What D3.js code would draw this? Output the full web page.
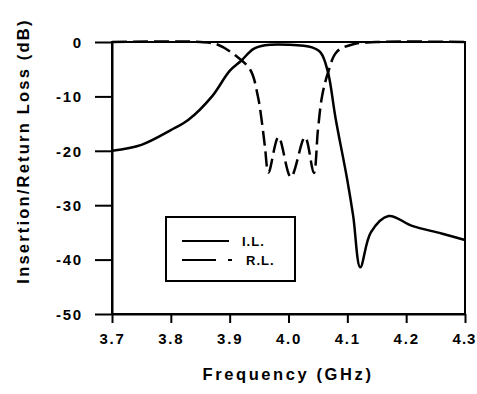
<!DOCTYPE html>
<html><head><meta charset="utf-8">
<script src="https://cdn.jsdelivr.net/npm/d3@7"></script>
<style>
body{margin:0;background:#fff;}
text{font-family:"Liberation Sans",Arial,sans-serif;font-weight:bold;fill:#000;}
</style></head>
<body><svg id="c" width="477" height="394"></svg>
<script>
const xTicks = [3.7, 3.8, 3.9, 4.0, 4.1, 4.2, 4.3];
const yTicks = [0, -10, -20, -30, -40, -50];
const ilFreq = [3.70, 3.75, 3.80, 3.83, 3.87, 3.90, 3.92, 3.94, 3.96, 4.00, 4.04, 4.055, 4.067, 4.08, 4.10, 4.11, 4.122, 4.14, 4.17, 4.21, 4.26, 4.30];
const ilVals = [-20, -18.9, -16.2, -14.3, -10, -5.3, -3.4, -1.3, -0.6, -0.5, -1.0, -2.0, -5.5, -14, -25.4, -32, -41.4, -35, -32, -33.8, -35.2, -36.4];
const rlFreq = [3.70, 3.85, 3.88, 3.91, 3.935, 3.948, 3.955, 3.96, 3.966, 3.983, 4.004, 4.028, 4.043, 4.05, 4.057, 4.067, 4.082, 4.11, 4.15, 4.30];
const rlVals = [0, 0, -0.5, -2.5, -5.1, -10, -14.9, -19.3, -24, -17.5, -24.8, -17.5, -24.1, -16.2, -10, -5.7, -1.8, -0.4, 0, 0];
const legendLabels = ["I.L.", "R.L."];

const svg = d3.select("#c");
const L = 112, R = 465, T = 42, B = 314;
const x = d3.scaleLinear().domain([3.7, 4.3]).range([L, R]);
const y = d3.scaleLinear().domain([-50, 0]).range([B, T]);

// frame
svg.append("rect").attr("x", L).attr("y", T).attr("width", R - L).attr("height", B - T)
  .attr("fill", "none").attr("stroke", "#000").attr("stroke-width", 2);

const xa = svg.append("g").attr("transform", `translate(0,${B})`)
  .call(d3.axisBottom(x).tickValues(xTicks).tickFormat(d3.format(".1f")).tickSize(9).tickSizeOuter(0));
const ya = svg.append("g").attr("transform", `translate(${L},0)`)
  .call(d3.axisLeft(y).tickValues(yTicks).tickFormat(d => d).tickSize(17).tickSizeOuter(0));
[xa, ya].forEach(a => {
  a.select(".domain").attr("stroke", "#000").attr("stroke-width", 2);
  a.selectAll(".tick line").attr("stroke", "#000").attr("stroke-width", 2);
  a.selectAll(".tick text").attr("font-size", 15).attr("letter-spacing", 1.8).style("font-family", "Liberation Sans, Arial, sans-serif").style("font-weight", "bold");
});
xa.selectAll(".tick text").attr("dy", "1.2em");
xa.selectAll(".tick text").filter(d => d === 4.3).attr("letter-spacing", 1).attr("dx", -1);
ya.selectAll(".tick text").attr("dx", -9).attr("dy", "0.35em");

const line = (fr, vs) => d3.line().x((d, i) => x(fr[i])).y((d, i) => y(vs[i])).curve(d3.curveCatmullRom.alpha(0.5))(vs);

svg.append("path").attr("d", line(ilFreq, ilVals)).attr("fill", "none").attr("stroke", "#000").attr("stroke-width", 2.5);
svg.append("path").attr("d", line(rlFreq, rlVals)).attr("fill", "none").attr("stroke", "#000").attr("stroke-width", 2.5).attr("stroke-dasharray", "15,6");

// legend
svg.append("rect").attr("x", 166).attr("y", 217).attr("width", 129).attr("height", 64).attr("fill", "#fff").attr("stroke", "#000").attr("stroke-width", 2);
svg.append("line").attr("x1", 182).attr("x2", 229).attr("y1", 241).attr("y2", 241).attr("stroke", "#000").attr("stroke-width", 2);
svg.append("line").attr("x1", 182).attr("x2", 234).attr("y1", 260).attr("y2", 260).attr("stroke", "#000").attr("stroke-width", 2).attr("stroke-dasharray", "34,12,4,20");
svg.append("text").attr("x", 242).attr("y", 246).attr("font-size", 13).attr("letter-spacing", 1).text(legendLabels[0]);
svg.append("text").attr("x", 246).attr("y", 265).attr("font-size", 13).attr("letter-spacing", 1).text(legendLabels[1]);

// titles
svg.append("text").attr("x", 288).attr("y", 380).attr("text-anchor", "middle").attr("font-size", 16.5).attr("letter-spacing", 2.6).text("Frequency (GHz)");
svg.append("text").attr("transform", "translate(29,151) rotate(-90)").attr("text-anchor", "middle").attr("font-size", 16.5).attr("letter-spacing", 2.2).text("Insertion/Return Loss (dB)");
</script></body></html>
